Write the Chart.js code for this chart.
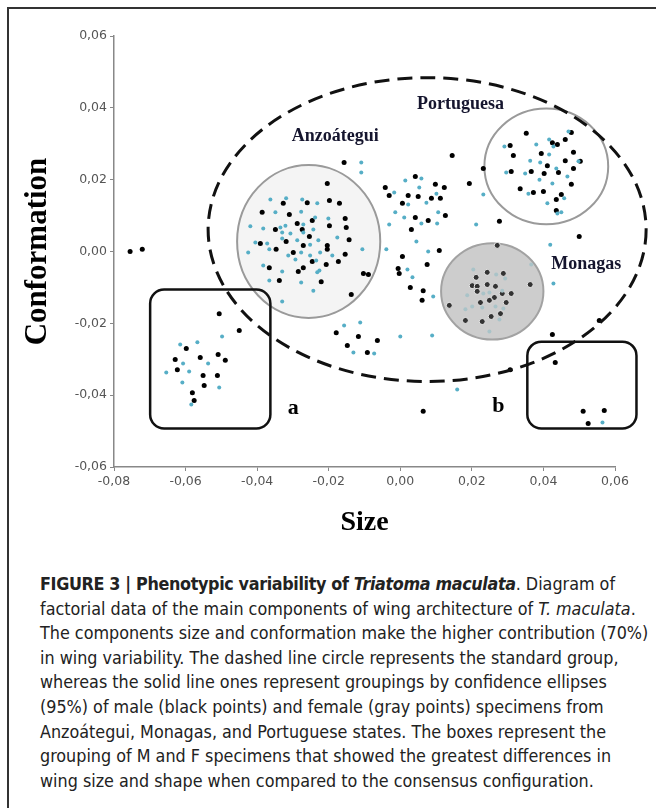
<!DOCTYPE html>
<html>
<head>
<meta charset="utf-8">
<script src="https://cdn.jsdelivr.net/npm/chart.js@4.4.1/dist/chart.umd.min.js"></script>
<style>
  html, body { margin: 0; padding: 0; background: #fff; }
  body { width: 656px; height: 808px; position: relative; overflow: hidden; }
  #frame { position: absolute; left: 7px; top: 7px; width: 660px; height: 820px;
           border-top: 2px solid #333; border-left: 2px solid #333; }
  #chart { position: absolute; left: 0; top: 0; }
  #caption { position: absolute; left: 40px; top: 572px; font-family: "Liberation Sans Narrow", "DejaVu Sans Condensed", sans-serif;
             font-size: 17.8px; line-height: 24.6px; color: #222; white-space: nowrap; }
  #caption b { font-weight: bold; letter-spacing: -0.35px; }
</style>
</head>
<body>
<div id="frame"></div>
<canvas id="chart" width="656" height="560"></canvas>
<div id="caption">
<b>FIGURE 3 | Phenotypic variability of <i>Triatoma maculata</i></b>. Diagram of<br>
factorial data of the main components of wing architecture of <i>T. maculata</i>.<br>
The components size and conformation make the higher contribution (70%)<br>
in wing variability. The dashed line circle represents the standard group,<br>
whereas the solid line ones represent groupings by confidence ellipses<br>
(95%) of male (black points) and female (gray points) specimens from<br>
Anzoátegui, Monagas, and Portuguese states. The boxes represent the<br>
grouping of M and F specimens that showed the greatest differences in<br>
wing size and shape when compared to the consensus configuration.
</div>
<script>
// Data: [size, conformation]
const xTicks = [-0.08, -0.06, -0.04, -0.02, 0.00, 0.02, 0.04, 0.06];
const yTicks = [-0.06, -0.04, -0.02, 0.00, 0.02, 0.04, 0.06];

// males (black points)
const maleAnz = [
  [-0.0204, 0.0189], [-0.0198, 0.0142], [-0.0170, 0.0134], [-0.0260, 0.0136], [-0.0327, 0.0134],
  [-0.0386, 0.0109], [-0.0310, 0.0103], [-0.0246, 0.0086], [-0.0154, 0.0092], [-0.0151, 0.0067],
  [-0.0198, 0.0072], [-0.0349, 0.0061], [-0.0288, 0.0078], [-0.0274, 0.0061], [-0.0254, 0.0042],
  [-0.0391, 0.0022], [-0.0319, 0.0028], [-0.0347, 0.0006], [-0.0299, -0.0003], [-0.0271, 0.0017],
  [-0.0204, 0.0017], [-0.0204, 0.0006], [-0.0143, 0.0033], [-0.0154, -0.0008], [-0.0173, -0.0028],
  [-0.0246, -0.0028], [-0.0271, -0.0045], [-0.0285, -0.0056], [-0.0207, -0.0036], [-0.0366, -0.0045],
  [-0.0338, -0.0081], [-0.0221, -0.0084], [-0.0103, -0.0061], [-0.0089, -0.0064], [-0.0137, -0.0120],
  [-0.0157, 0.0248]
];
const maleMid = [
  [0.0145, 0.0267], [0.0042, 0.0209], [-0.0042, 0.0178], [-0.0031, 0.0156], [0.0022, 0.0156],
  [0.0050, 0.0153], [0.0098, 0.0187], [0.0123, 0.0178], [0.0087, 0.0148], [0.0112, 0.0148],
  [0.0006, 0.0134], [0.0193, 0.0189], [0.0232, 0.0231], [0.0042, 0.0095], [0.0078, 0.0086],
  [0.0126, 0.0100], [0.0031, 0.0061], [0.0109, 0.0003], [0.0006, -0.0014], [-0.0006, -0.0047],
  [-0.0003, -0.0061], [0.0028, -0.0100], [0.0064, -0.0109], [0.0061, -0.0136], [0.0277, 0.0084],
  [0.0500, 0.0042], [0.0075, -0.0036],
  [-0.0179, -0.0226], [-0.0117, -0.0237], [-0.0064, -0.0248], [-0.0148, -0.0262], [-0.0092, -0.0281],
  [0.0064, -0.0445], [0.0307, -0.0329], [0.0425, -0.0231], [0.0556, -0.0192],
  [-0.0755, 0.0000], [-0.0721, 0.0006]
];
const malePor = [
  [0.0352, 0.0329], [0.0307, 0.0295], [0.0478, 0.0331], [0.0461, 0.0312], [0.0425, 0.0303],
  [0.0439, 0.0298], [0.0316, 0.0267], [0.0394, 0.0273], [0.0484, 0.0276], [0.0503, 0.0251],
  [0.0411, 0.0239], [0.0366, 0.0223], [0.0310, 0.0223], [0.0461, 0.0253], [0.0402, 0.0217],
  [0.0442, 0.0220], [0.0484, 0.0231], [0.0478, 0.0187], [0.0335, 0.0175], [0.0372, 0.0164],
  [0.0400, 0.0167], [0.0450, 0.0159], [0.0436, 0.0145], [0.0436, 0.0114]
];
const maleMon = [
  [0.0271, 0.0017], [0.0243, -0.0058], [0.0288, -0.0061], [0.0212, -0.0072], [0.0201, -0.0095],
  [0.0215, -0.0097], [0.0243, -0.0092], [0.0266, -0.0097], [0.0363, -0.0092], [0.0215, -0.0111],
  [0.0285, -0.0117], [0.0310, -0.0117], [0.0263, -0.0128], [0.0224, -0.0142], [0.0249, -0.0136],
  [0.0296, -0.0142], [0.0137, -0.0150], [0.0280, -0.0173], [0.0254, -0.0181], [0.0182, -0.0192],
  [0.0229, -0.0195]
];
const maleBoxA = [
  [-0.0506, -0.0173], [-0.0450, -0.0220], [-0.0598, -0.0270], [-0.0559, -0.0295], [-0.0509, -0.0287],
  [-0.0489, -0.0303], [-0.0629, -0.0301], [-0.0623, -0.0329], [-0.0551, -0.0345], [-0.0511, -0.0345],
  [-0.0548, -0.0373], [-0.0581, -0.0393], [-0.0576, -0.0415]
];
const maleBoxB = [
  [0.0433, -0.0309], [0.0620, -0.0262], [0.0511, -0.0445], [0.0570, -0.0443], [0.0525, -0.0479]
];

// females (gray points)
const femaleAnz = [
  [-0.0363, 0.0145], [-0.0319, 0.0148], [-0.0274, 0.0145], [-0.0232, 0.0134], [-0.0349, 0.0109],
  [-0.0277, 0.0111], [-0.0238, 0.0095], [-0.0201, 0.0092], [-0.0419, 0.0070], [-0.0383, 0.0064],
  [-0.0335, 0.0067], [-0.0321, 0.0072], [-0.0271, 0.0075], [-0.0330, 0.0053], [-0.0307, 0.0050],
  [-0.0271, 0.0053], [-0.0243, 0.0061], [-0.0176, 0.0039], [-0.0405, 0.0025], [-0.0372, 0.0022],
  [-0.0330, 0.0036], [-0.0288, 0.0031], [-0.0229, 0.0031], [-0.0252, 0.0019], [-0.0425, -0.0003],
  [-0.0366, 0.0006], [-0.0313, -0.0011], [-0.0277, -0.0003], [-0.0252, -0.0011], [-0.0224, -0.0003],
  [-0.0190, -0.0011], [-0.0106, 0.0006], [-0.0293, -0.0022], [-0.0235, -0.0025], [-0.0383, -0.0039],
  [-0.0330, -0.0056], [-0.0232, -0.0058], [-0.0226, -0.0053], [-0.0366, -0.0081], [-0.0277, -0.0086],
  [-0.0243, -0.0109], [-0.0330, -0.0139], [-0.0109, 0.0248], [-0.0109, 0.0220]
];
const femaleMid = [
  [0.0014, 0.0198], [0.0059, 0.0203], [0.0053, 0.0178], [-0.0017, 0.0164], [0.0101, 0.0161],
  [0.0022, 0.0131], [0.0073, 0.0136], [-0.0014, 0.0109], [0.0011, 0.0095], [0.0106, 0.0109],
  [-0.0031, 0.0075], [0.0059, 0.0078], [0.0103, 0.0078], [0.0232, 0.0159], [0.0212, 0.0075],
  [0.0045, 0.0028], [-0.0039, 0.0006], [0.0078, 0.0000], [0.0020, -0.0050], [0.0034, -0.0072],
  [-0.0157, -0.0206], [-0.0112, -0.0198], [0.0000, -0.0237], [0.0092, -0.0125], [0.0089, -0.0234],
  [0.0419, 0.0019], [0.0428, -0.0089], [-0.0131, -0.0281], [-0.0073, -0.0284], [0.0159, -0.0384]
];
const femalePor = [
  [0.0470, 0.0334], [0.0416, 0.0312], [0.0428, 0.0292], [0.0380, 0.0298], [0.0291, 0.0292],
  [0.0416, 0.0270], [0.0363, 0.0253], [0.0391, 0.0248], [0.0498, 0.0251], [0.0436, 0.0231],
  [0.0296, 0.0220], [0.0349, 0.0217], [0.0389, 0.0200], [0.0467, 0.0209], [0.0425, 0.0189],
  [0.0358, 0.0161], [0.0458, 0.0148], [0.0411, 0.0134], [0.0439, 0.0106], [0.0450, 0.0109]
];
const femaleMon = [
  [0.0204, -0.0050], [0.0268, -0.0064], [0.0293, -0.0075], [0.0187, -0.0122], [0.0232, -0.0117],
  [0.0249, -0.0114], [0.0285, -0.0109], [0.0182, -0.0161], [0.0201, -0.0153], [0.0229, -0.0156],
  [0.0266, -0.0153], [0.0288, -0.0159], [0.0277, -0.0189], [0.0249, -0.0223], [0.0366, -0.0036]
];
const femaleBoxA = [
  [-0.0615, -0.0259], [-0.0567, -0.0253], [-0.0498, -0.0237], [-0.0607, -0.0312], [-0.0590, -0.0334],
  [-0.0537, -0.0312], [-0.0654, -0.0337], [-0.0609, -0.0365], [-0.0506, -0.0379], [-0.0584, -0.0426]
];
const femaleBoxB = [[0.0565, -0.0476]];

// confidence ellipses and groupings, in data units: [cx, cy, rx, ry]
const standardGroup = [0.0075, 0.0061, 0.0612, 0.0423];
const anzEllipse = [-0.0256, 0.0028, 0.0200, 0.0213];
const porEllipse = [0.0408, 0.0237, 0.0173, 0.0161];
const monEllipse = [0.0257, -0.0111, 0.0143, 0.0134];
// boxes: [x1, y1, x2, y2]
const boxA = [-0.0699, -0.0106, -0.0363, -0.0493];
const boxB = [0.0355, -0.0251, 0.0660, -0.0493];

const stateNames = ['Anzoátegui', 'Portuguesa', 'Monagas'];
const stateNamePos = [[-0.0182, 0.0322], [0.0168, 0.0411], [0.0520, -0.0036]];
const boxNames = ['a', 'b'];
const boxNamePos = [[-0.0299, -0.0437], [0.0274, -0.0432]];

const toPts = arr => arr.map(p => ({ x: p[0], y: p[1] }));
const fmt = v => (Math.abs(v) < 1e-9 ? 0 : v).toFixed(2).replace('.', ',');

function ellipsePath(ctx, xs, ys, e) {
    const cx = xs.getPixelForValue(e[0]);
    const cy = ys.getPixelForValue(e[1]);
    const rx = Math.abs(xs.getPixelForValue(e[0] + e[2]) - cx);
    const ry = Math.abs(ys.getPixelForValue(e[1] + e[3]) - cy);
    ctx.beginPath();
    ctx.ellipse(cx, cy, rx, ry, 0, 0, Math.PI * 2);
}

function boxPath(ctx, xs, ys, b, r) {
    const x1 = xs.getPixelForValue(b[0]), x2 = xs.getPixelForValue(b[2]);
    const y1 = ys.getPixelForValue(b[1]), y2 = ys.getPixelForValue(b[3]);
    ctx.beginPath();
    ctx.roundRect(x1, y1, x2 - x1, y2 - y1, r);
}

// Draws the grouping shapes and their names through the chart's own scales
const groupsPlugin = {
    id: 'groups',
    beforeDatasetsDraw(chart) {
        const { ctx, scales: { x, y } } = chart;
        ctx.save();
        ellipsePath(ctx, x, y, anzEllipse);
        ctx.fillStyle = '#f4f4f4';
        ctx.fill();
        ctx.lineWidth = 2;
        ctx.strokeStyle = '#9a9a9a';
        ctx.stroke();

        ellipsePath(ctx, x, y, monEllipse);
        ctx.fillStyle = '#cdcdcd';
        ctx.fill();
        ctx.strokeStyle = '#a2a2a2';
        ctx.stroke();

        ellipsePath(ctx, x, y, porEllipse);
        ctx.strokeStyle = '#9a9a9a';
        ctx.stroke();
        ctx.restore();
    },
    afterDatasetsDraw(chart) {
        const { ctx, scales: { x, y } } = chart;
        ctx.save();
        ellipsePath(ctx, x, y, standardGroup);
        ctx.setLineDash([15, 8]);
        ctx.lineWidth = 3;
        ctx.strokeStyle = '#111';
        ctx.stroke();
        ctx.setLineDash([]);

        ctx.lineWidth = 2.5;
        boxPath(ctx, x, y, boxA, 14);
        ctx.stroke();
        boxPath(ctx, x, y, boxB, 14);
        ctx.stroke();

        ctx.textAlign = 'center';
        ctx.textBaseline = 'middle';
        ctx.fillStyle = '#15152e';
        ctx.font = 'bold 18px "Liberation Serif", serif';
        stateNames.forEach((n, i) => {
            ctx.fillText(n, x.getPixelForValue(stateNamePos[i][0]), y.getPixelForValue(stateNamePos[i][1]));
        });
        ctx.fillStyle = '#000';
        ctx.font = 'bold 22px "Liberation Serif", serif';
        boxNames.forEach((n, i) => {
            ctx.fillText(n, x.getPixelForValue(boxNamePos[i][0]), y.getPixelForValue(boxNamePos[i][1]));
        });
        ctx.restore();
    }
};

const maleStyle = { backgroundColor: '#000', borderColor: '#000', pointRadius: 2.5, borderWidth: 0 };
const femaleStyle = { backgroundColor: '#56aec6', borderColor: '#56aec6', pointRadius: 2, borderWidth: 0 };

const ctx = document.getElementById('chart').getContext('2d');
new Chart(ctx, {
    type: 'scatter',
    data: {
        datasets: [
            { label: 'F Anzoátegui', data: toPts(femaleAnz), ...femaleStyle },
            { label: 'F other', data: toPts(femaleMid), ...femaleStyle },
            { label: 'F Portuguesa', data: toPts(femalePor), ...femaleStyle },
            { label: 'F box a', data: toPts(femaleBoxA), ...femaleStyle },
            { label: 'F box b', data: toPts(femaleBoxB), ...femaleStyle },
            { label: 'M Anzoátegui', data: toPts(maleAnz), ...maleStyle },
            { label: 'M other', data: toPts(maleMid), ...maleStyle },
            { label: 'M Portuguesa', data: toPts(malePor), ...maleStyle },
            { label: 'M box a', data: toPts(maleBoxA), ...maleStyle },
            { label: 'M box b', data: toPts(maleBoxB), ...maleStyle },
            { label: 'F Monagas', data: toPts(femaleMon), backgroundColor: '#a9c3c8', borderColor: '#a9c3c8', pointRadius: 2, borderWidth: 0 },
            { label: 'M Monagas', data: toPts(maleMon), backgroundColor: '#333', borderColor: '#e8e8e8', pointRadius: 3, borderWidth: 1 }
        ].map(d => ({ ...d, clip: false }))
    },
    options: {
        responsive: false,
        animation: false,
        devicePixelRatio: 1,
        layout: { padding: { left: 0, top: 36, right: 41, bottom: 13 } },
        plugins: { legend: { display: false }, tooltip: { enabled: false } },
        scales: {
            x: {
                type: 'linear',
                min: xTicks[0],
                max: xTicks[xTicks.length - 1],
                afterBuildTicks: s => { s.ticks = xTicks.map(v => ({ value: v })); },
                afterFit: s => { s.height = 80; },
                grid: { drawOnChartArea: false, drawTicks: true, tickLength: 4, color: '#888' },
                border: { color: '#888', width: 1.5 },
                ticks: { callback: fmt, color: '#555', padding: 3, maxRotation: 0, font: { family: 'DejaVu Sans', size: 12.5 } },
                title: { display: true, text: 'Size', color: '#000', padding: { top: 0, bottom: 7 },
                         font: { family: 'Liberation Serif', size: 28, weight: 'bold' } }
            },
            y: {
                type: 'linear',
                min: yTicks[0],
                max: yTicks[yTicks.length - 1],
                afterBuildTicks: s => { s.ticks = yTicks.map(v => ({ value: v })); },
                afterFit: s => { s.width = 114; },
                grid: { drawOnChartArea: false, drawTicks: true, tickLength: 4, color: '#888' },
                border: { color: '#888', width: 1.5 },
                ticks: { callback: fmt, color: '#555', padding: 3, font: { family: 'DejaVu Sans', size: 12.5 } },
                title: { display: true, text: 'Conformation', color: '#000', padding: { top: 19, bottom: 0 },
                         font: { family: 'Liberation Serif', size: 31, weight: 'bold' } }
            }
        }
    },
    plugins: [groupsPlugin]
});
</script>
</body>
</html>
